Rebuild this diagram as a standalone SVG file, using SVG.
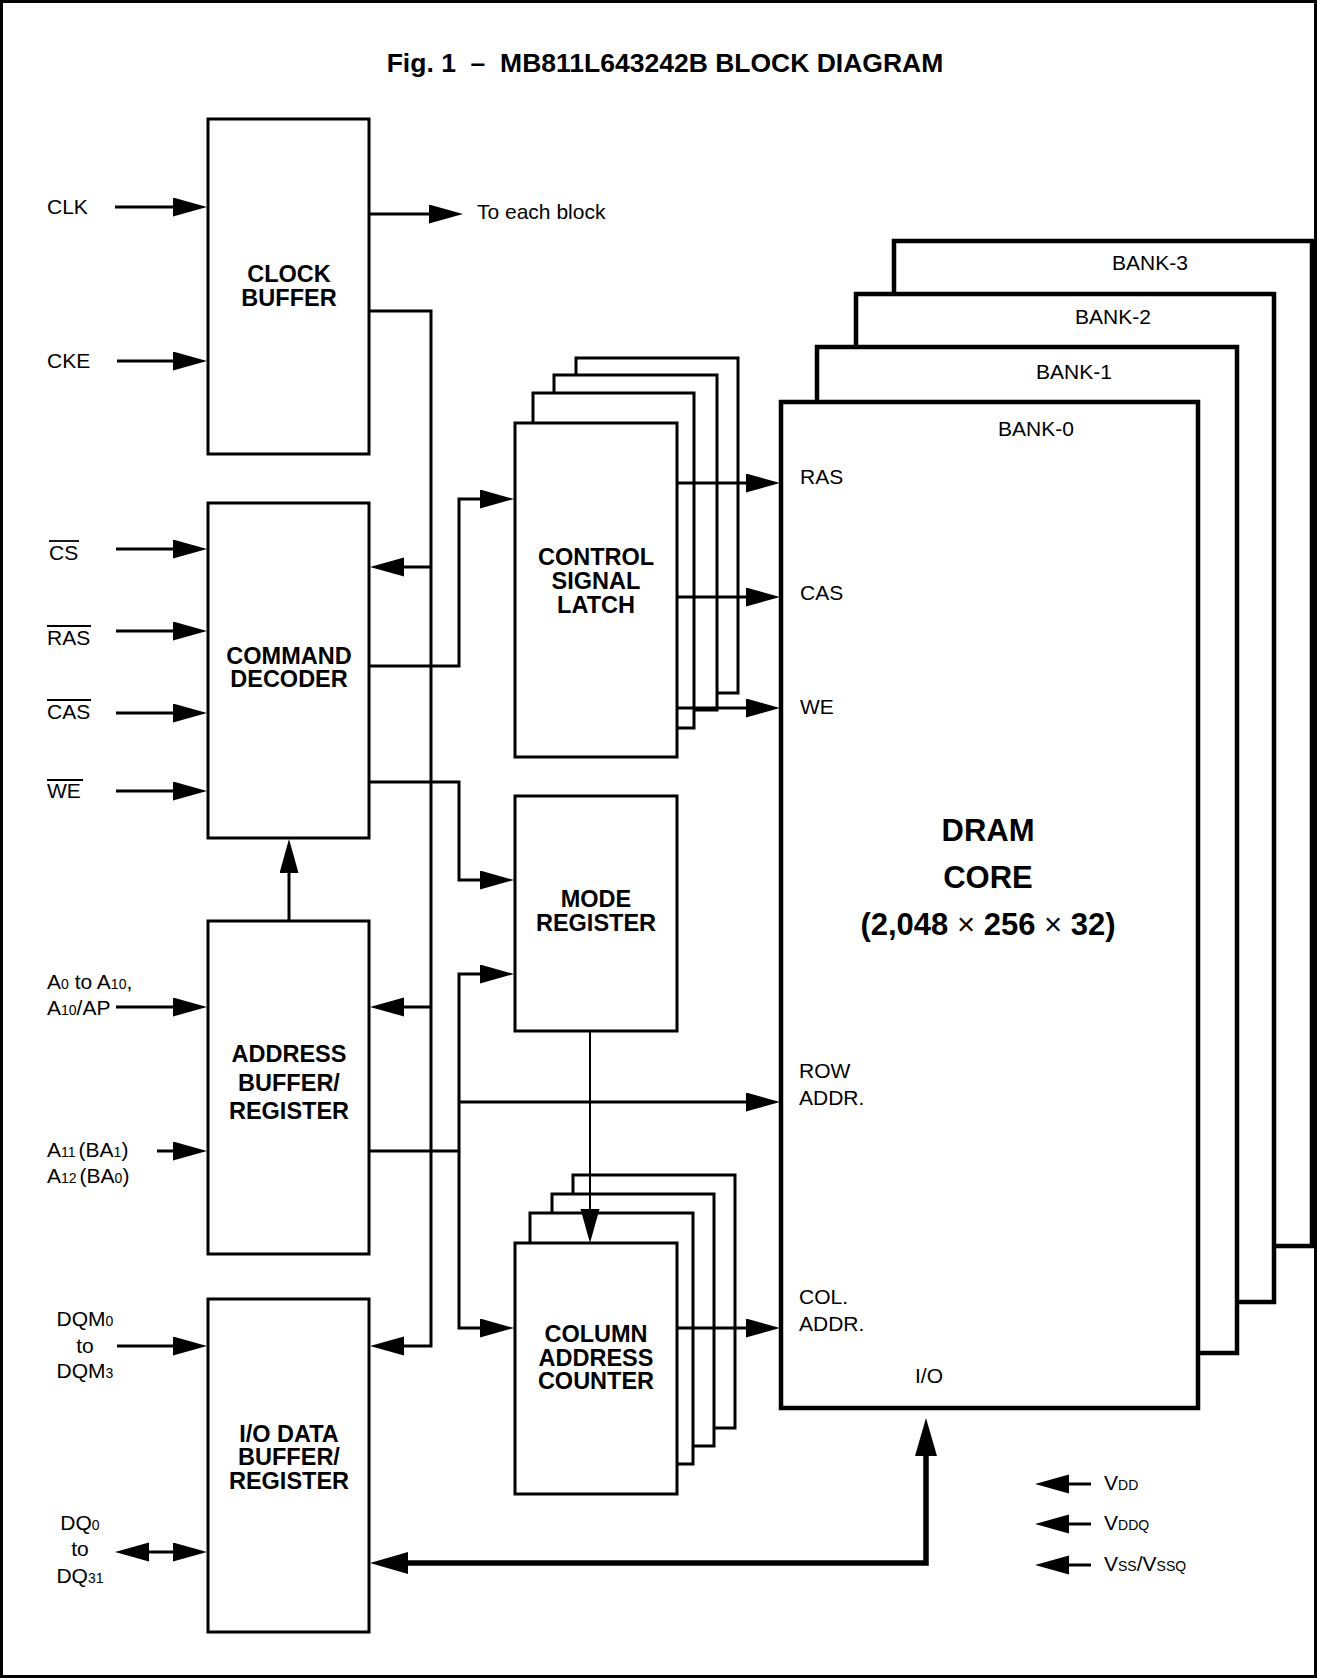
<svg xmlns="http://www.w3.org/2000/svg" width="1317" height="1678" viewBox="0 0 1317 1678">
<style>
text{font-family:"Liberation Sans",Arial,Helvetica,sans-serif;fill:#000}
.t{font-size:21px}
.s{font-size:14px}
.b{font-size:23.5px;font-weight:bold;text-anchor:middle}
.m{text-anchor:middle}
.core{font-size:31px;font-weight:bold;text-anchor:middle}
.x{font-weight:normal}
.box{fill:#fff;stroke:#000;stroke-width:3}
.bank{fill:#fff;stroke:#000;stroke-width:4.5}
.ln{fill:none;stroke:#000;stroke-width:3}
.thin{fill:none;stroke:#000;stroke-width:2}
.thick{fill:none;stroke:#000;stroke-width:5.5}
.ob{stroke:#000;stroke-width:1.8}
</style>
<defs>
<marker id="ah" markerUnits="userSpaceOnUse" markerWidth="36" markerHeight="20" viewBox="0 0 36 20" refX="1" refY="9.5" orient="auto-start-reverse"><path d="M0,0 L34,9.5 L0,19 z" fill="#000"/></marker>
<marker id="ahb" markerUnits="userSpaceOnUse" markerWidth="40" markerHeight="24" viewBox="0 0 40 24" refX="1" refY="11" orient="auto-start-reverse"><path d="M0,0 L38,11 L0,22 z" fill="#000"/></marker>
</defs>
<rect x="1.5" y="1.5" width="1314" height="1675" fill="#fff" stroke="#000" stroke-width="3"/>
<text x="665" y="72" class="m" style="font-size:26.5px;font-weight:bold" xml:space="preserve">Fig. 1  –  MB811L643242B BLOCK DIAGRAM</text>

<g id="clock-buffer">
<rect class="box" x="208" y="119" width="161" height="335"/>
<text class="b" x="289" y="282">CLOCK</text>
<text class="b" x="289" y="306">BUFFER</text>
</g>
<g id="command-decoder">
<rect class="box" x="208" y="503" width="161" height="335"/>
<text class="b" x="289" y="664">COMMAND</text>
<text class="b" x="289" y="687">DECODER</text>
</g>
<g id="address-buffer">
<rect class="box" x="208" y="921" width="161" height="333"/>
<text class="b" x="289" y="1062">ADDRESS</text>
<text class="b" x="289" y="1091">BUFFER/</text>
<text class="b" x="289" y="1119">REGISTER</text>
</g>
<g id="io-buffer">
<rect class="box" x="208" y="1299" width="161" height="333"/>
<text class="b" x="289" y="1442">I/O DATA</text>
<text class="b" x="289" y="1465">BUFFER/</text>
<text class="b" x="289" y="1489">REGISTER</text>
</g>
<g id="control-signal-latch">
<rect class="box" x="576" y="358" width="162" height="335"/>
<rect class="box" x="554" y="375" width="163" height="335"/>
<rect class="box" x="533" y="393" width="161" height="335"/>
<rect class="box" x="515" y="423" width="162" height="334"/>
<text class="b" x="596" y="565">CONTROL</text>
<text class="b" x="596" y="589">SIGNAL</text>
<text class="b" x="596" y="613">LATCH</text>
</g>
<g id="mode-register">
<rect class="box" x="515" y="796" width="162" height="235"/>
<text class="b" x="596" y="907">MODE</text>
<text class="b" x="596" y="931">REGISTER</text>
</g>
<g id="column-address-counter">
<rect class="box" x="573" y="1175" width="162" height="253"/>
<rect class="box" x="552" y="1194" width="162" height="252"/>
<rect class="box" x="530" y="1213" width="163" height="251"/>
<rect class="box" x="515" y="1243" width="162" height="251"/>
<text class="b" x="596" y="1342">COLUMN</text>
<text class="b" x="596" y="1366">ADDRESS</text>
<text class="b" x="596" y="1389">COUNTER</text>
</g>
<g id="bank-3">
<rect class="bank" x="894" y="241" width="418" height="1005"/>
<text class="t m" x="1150" y="270">BANK-3</text>
</g>
<g id="bank-2">
<rect class="bank" x="856" y="294" width="418" height="1008"/>
<text class="t m" x="1113" y="324">BANK-2</text>
</g>
<g id="bank-1">
<rect class="bank" x="817" y="347" width="420" height="1006"/>
<text class="t m" x="1074" y="379">BANK-1</text>
</g>
<g id="bank-0">
<rect class="bank" x="781" y="402" width="417" height="1006"/>
<text class="t m" x="1036" y="436">BANK-0</text>
<text class="t" x="800" y="484">RAS</text>
<text class="t" x="800" y="600">CAS</text>
<text class="t" x="800" y="714">WE</text>
<text class="core" x="988" y="841">DRAM</text>
<text class="core" x="988" y="888">CORE</text>
<text class="core" x="988" y="935">(2,048 <tspan class="x">×</tspan> 256 <tspan class="x">×</tspan> 32)</text>
<text class="t" x="799" y="1078">ROW</text>
<text class="t" x="799" y="1105">ADDR.</text>
<text class="t" x="799" y="1304">COL.</text>
<text class="t" x="799" y="1331">ADDR.</text>
<text class="t" x="915" y="1383">I/O</text>
</g>

<g id="labels">
<text class="t" x="47" y="214">CLK</text>
<text class="t" x="47" y="368">CKE</text>
<text class="t" x="477" y="219">To each block</text>
<text class="t" x="49" y="560">CS</text>
<line class="ob" x1="49" y1="541" x2="79" y2="541"/>
<text class="t" x="47" y="645">RAS</text>
<line class="ob" x1="47" y1="626" x2="91" y2="626"/>
<text class="t" x="47" y="719">CAS</text>
<line class="ob" x1="47" y1="700" x2="91" y2="700"/>
<text class="t" x="47" y="798">WE</text>
<line class="ob" x1="47" y1="780" x2="83" y2="780"/>
<text class="t" x="47" y="989">A<tspan class="s">0</tspan> to A<tspan class="s">10</tspan>,</text>
<text class="t" x="47" y="1015">A<tspan class="s">10</tspan>/AP</text>
<text class="t" x="47" y="1157">A<tspan class="s">11</tspan><tspan dx="3">(BA</tspan><tspan class="s">1</tspan>)</text>
<text class="t" x="47" y="1183">A<tspan class="s">12</tspan><tspan dx="3">(BA</tspan><tspan class="s">0</tspan>)</text>
<text class="t m" x="85" y="1326">DQM<tspan class="s">0</tspan></text>
<text class="t m" x="85" y="1353">to</text>
<text class="t m" x="85" y="1378">DQM<tspan class="s">3</tspan></text>
<text class="t m" x="80" y="1530">DQ<tspan class="s">0</tspan></text>
<text class="t m" x="80" y="1556">to</text>
<text class="t m" x="80" y="1583">DQ<tspan class="s">31</tspan></text>
<text class="t" x="1104" y="1490">V<tspan class="s">DD</tspan></text>
<text class="t" x="1104" y="1530">V<tspan class="s">DDQ</tspan></text>
<text class="t" x="1104" y="1571">V<tspan class="s">SS</tspan>/V<tspan class="s">SSQ</tspan></text>
</g>

<g id="connectors">
<path class="ln" d="M115,207 H174" marker-end="url(#ah)"/>
<path class="ln" d="M117,361 H174" marker-end="url(#ah)"/>
<path class="ln" d="M369,214 H430" marker-end="url(#ah)"/>
<path class="ln" d="M116,549 H174" marker-end="url(#ah)"/>
<path class="ln" d="M116,631 H174" marker-end="url(#ah)"/>
<path class="ln" d="M116,713 H174" marker-end="url(#ah)"/>
<path class="ln" d="M116,791 H174" marker-end="url(#ah)"/>
<path class="ln" d="M116,1007 H174" marker-end="url(#ah)"/>
<path class="ln" d="M157,1151 H174" marker-end="url(#ah)"/>
<path class="ln" d="M117,1346 H174" marker-end="url(#ah)"/>
<path class="ln" d="M148,1552 H174" marker-start="url(#ah)" marker-end="url(#ah)"/>
<path class="ln" d="M369,311 H431 V1346 H403" marker-end="url(#ah)"/>
<path class="ln" d="M431,567 H403" marker-end="url(#ah)"/>
<path class="ln" d="M431,1007 H403" marker-end="url(#ah)"/>
<path class="ln" d="M369,666 H459 V499 H481" marker-end="url(#ah)"/>
<path class="ln" d="M369,782 H459 V880 H481" marker-end="url(#ah)"/>
<path class="ln" d="M289,921 V872" marker-end="url(#ah)"/>
<path class="ln" d="M369,1151 H459"/>
<path class="ln" d="M481,974 H459 V1328 H481" marker-start="url(#ah)" marker-end="url(#ah)"/>
<path class="ln" d="M459,1102 H747" marker-end="url(#ah)"/>
<path class="ln" d="M677,483 H747" marker-end="url(#ah)"/>
<path class="ln" d="M677,597 H747" marker-end="url(#ah)"/>
<path class="ln" d="M677,708 H747" marker-end="url(#ah)"/>
<path class="ln" d="M677,1328 H747" marker-end="url(#ah)"/>
<path class="thin" d="M590,1031 V1210" marker-end="url(#ah)"/>
<path class="thick" d="M407,1563 H926 V1455" marker-start="url(#ahb)" marker-end="url(#ahb)"/>
<path class="ln" d="M1091,1484 H1068" marker-end="url(#ah)"/>
<path class="ln" d="M1091,1524 H1068" marker-end="url(#ah)"/>
<path class="ln" d="M1091,1565 H1068" marker-end="url(#ah)"/>
</g>
</svg>
